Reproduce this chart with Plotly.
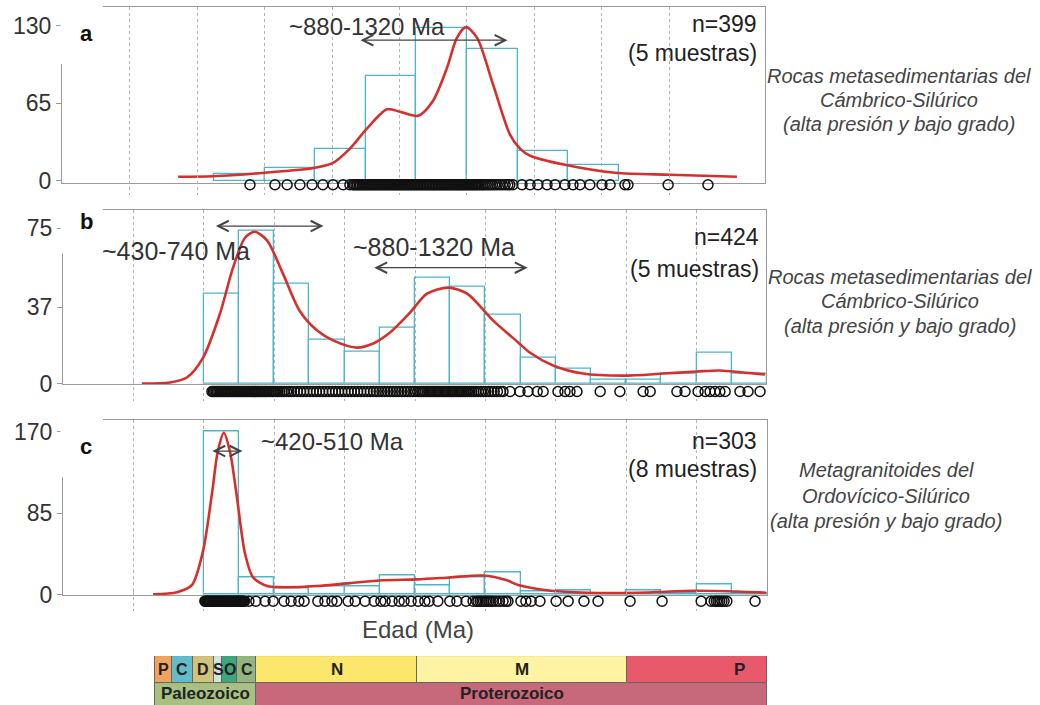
import plotly.graph_objects as go

W, H = 1040, 705          # reference picture size (positions below are read in this space)
FIG_H = 718               # layout height (compensates the vertical squeeze seen in the capture

# ---------------- data ----------------
grid_ages = [200, 400, 600, 800, 1000, 1200, 1400, 1600, 1800]

# panel a : n=399
a_bin_left = [450, 600, 750, 900, 1050, 1200, 1350, 1500]
a_bin_width = 150
a_counts = [6, 11, 27, 88, 128, 111, 25, 13]
a_kde_age = [344, 447, 601, 750, 803, 853, 904, 963, 1001, 1055, 1099, 1141, 1170, 1197,
             1230, 1277, 1327, 1357, 1387, 1490, 1639, 1801, 2000]
a_kde_val = [3.4, 3.8, 6.7, 10.9, 15, 27, 44, 60, 58, 54.5, 67, 95, 120, 129,
             120, 81, 39, 27, 21, 13.4, 6.7, 5, 3.4]
a_ages = [557, 631, 667, 705, 741, 773, 803, 833, 853,
          862, 866, 871, 875, 880, 884, 889, 893, 898, 902, 907, 911, 916, 920, 925, 929, 934,
          938, 943, 947, 952, 956, 961, 965, 970, 974, 979, 983, 988, 992, 997, 1001, 1006,
          1010, 1015, 1019, 1024, 1028, 1033, 1037, 1042, 1046, 1051, 1055, 1060, 1064, 1069,
          1073, 1078, 1082, 1087, 1091, 1096, 1100, 1105, 1109, 1114, 1118, 1123, 1127, 1132,
          1136, 1141, 1145, 1150, 1154, 1159, 1163, 1168, 1172, 1177, 1181, 1186, 1190, 1195,
          1199, 1204, 1208, 1213, 1217, 1222, 1226, 1231, 1236, 1241, 1246, 1251, 1257, 1263,
          1269, 1275, 1282, 1289, 1297, 1305, 1313, 1321, 1327,
          1336, 1363, 1387, 1410, 1437, 1461, 1490, 1514, 1535, 1564, 1600, 1624, 1668, 1677,
          1796, 1914]

# panel b : n=424
b_bin_left = [400, 500, 600, 700, 800, 900, 1000, 1100, 1200, 1300, 1400, 1500, 1600, 1700, 1800, 1900]
b_bin_width = 100
b_counts = [43.4, 73.8, 48.2, 21.2, 15.3, 27.3, 51, 47, 33.4, 12.5, 7.2, 2, 2, 4.8, 15, 5]
b_kde_age = [224, 304, 352, 398, 446, 483, 517, 545, 580, 625, 673, 722, 767, 835, 881, 929,
             986, 1034, 1094, 1148, 1222, 1293, 1327, 1392, 1477, 1591, 1705, 1801, 1866, 1932, 1994]
b_kde_val = [0.2, 0.7, 3.1, 12.7, 33.9, 56, 70.4, 73.3, 69, 53, 35, 25.7, 21, 17.5, 19.5, 24.8,
             34.4, 43.5, 46.4, 43.5, 30.5, 20, 15, 8.9, 5, 4, 5, 6, 6.5, 5.5, 4.6]
b_ages = [423, 427, 431, 435, 439, 443, 447, 451, 455, 459, 463, 467, 471, 475, 479, 483, 487,
          491, 495, 499, 503, 507, 511, 515, 519, 523, 527, 531, 535, 539, 543, 547, 551, 555,
          559, 563, 567, 571, 575, 579, 584, 589, 594, 599, 604, 610, 616, 622, 628, 635, 642,
          649, 657, 666, 675, 684, 693, 702, 711, 720, 729, 738, 747, 756, 765, 774, 783, 792,
          801, 810, 819, 828, 837, 846, 855, 864, 873, 882, 890, 898, 906, 914, 922, 930, 938,
          946, 954, 962, 970, 978, 986, 994, 1001, 1008,
          1014, 1019, 1024, 1029, 1034, 1039, 1044, 1049, 1054, 1059, 1064, 1069, 1074, 1079,
          1084, 1089, 1094, 1099, 1104, 1109, 1114, 1119, 1124, 1129, 1134, 1139, 1144, 1149,
          1155, 1161, 1167, 1173, 1180, 1187, 1194, 1201, 1209, 1217, 1225, 1234, 1243, 1250,
          1270, 1298, 1321, 1347, 1364, 1406, 1426, 1440, 1460, 1526, 1582, 1648, 1668, 1744,
          1767, 1804, 1824, 1838, 1852, 1866, 1881, 1923, 1946, 1980]

# panel c : n=303
c_bin_left = [400, 500, 600, 700, 800, 900, 1000, 1100, 1200, 1300, 1400, 1500, 1600, 1700, 1800, 1900]
c_bin_width = 100
c_counts = [171, 18, 7, 9, 9, 20, 10, 18, 23, 3, 4, 1, 4, 1, 11, 1]
c_kde_age = [256, 324, 366, 398, 423, 440, 457, 474, 494, 517, 540, 580, 625, 722, 815, 909,
             1006, 1099, 1193, 1261, 1293, 1386, 1489, 1634, 1793, 1889, 1997]
c_kde_val = [0.5, 2.6, 9.9, 46, 105, 150, 169, 150, 102, 43, 18, 9, 7.8, 9, 12, 15,
             16, 18, 20, 15, 10, 4, 2, 2, 4, 3.5, 2]
c_ages = [403, 405, 408, 410, 413, 415, 418, 420, 423, 425, 428, 430, 433, 435, 438, 440, 443,
          445, 448, 450, 453, 455, 458, 460, 463, 465, 468, 470, 473, 475, 478, 480, 483, 485,
          488, 490, 493, 495, 498, 500, 503, 505, 508, 510, 513, 516,
          528, 548, 574, 597, 628, 648, 670, 685, 724, 744, 764, 778, 810, 830, 858, 884, 903,
          915, 935, 955, 969, 989, 1009, 1028, 1040, 1065, 1099, 1119, 1145, 1165, 1175, 1179,
          1185, 1190, 1195, 1200, 1205, 1210, 1216, 1222, 1230, 1240, 1250, 1258, 1264, 1301,
          1315, 1330, 1355, 1401, 1435, 1480, 1520, 1611, 1702, 1813, 1841, 1850, 1856, 1861,
          1866, 1872, 1878, 1886, 1966]

# geological time scale (Ma)
period_names = ["P", "C", "D", "S", "O", "C"]
period_start = [252, 299, 359, 419, 444, 485]
period_end = [299, 359, 419, 444, 485, 541]
period_colors = ["#F2A45C", "#63BCCB", "#D2C27C", "#CDE7DF", "#3FA57B", "#93B57E"]
proto_names = ["N", "M", "P"]
proto_start = [541, 1000, 1600]
proto_end = [1000, 1600, 2000]
proto_colors = ["#FCE76C", "#FDF3A2", "#E85A6B"]
proto_label_age = [770, 1300, 1920]
era_names = ["Paleozoico", "Proterozoico"]
era_start = [252, 541]
era_end = [541, 2000]
era_colors = ["#A8C081", "#C8687B"]

# ---------------- figure ----------------
FONT = "Liberation Sans, Arial, sans-serif"
RED = "#D5302B"
CYAN = "#4AB7CD"
fig = go.Figure()


def add_panel(xa, ya, yc, left, width, counts, kage, kval, ages):
    centers = [l + width / 2 for l in left]
    fig.add_trace(go.Bar(x=centers, y=counts, width=width, xaxis=xa, yaxis=ya,
                         marker=dict(color="rgba(0,0,0,0)", line=dict(color=CYAN, width=1.3)),
                         showlegend=False, hoverinfo="skip"))
    fig.add_trace(go.Scatter(x=kage, y=kval, xaxis=xa, yaxis=ya, mode="lines",
                             line=dict(color=RED, width=2.6, shape="spline", smoothing=0.8),
                             showlegend=False, hoverinfo="skip"))
    fig.add_trace(go.Scatter(x=ages, y=[0] * len(ages), xaxis=xa, yaxis=yc, mode="markers",
                             marker=dict(symbol="circle-open", size=10,
                                         line=dict(color="#111", width=1.5), color="#111"),
                             cliponaxis=False, showlegend=False, hoverinfo="skip"))


add_panel("x", "y", "y4", a_bin_left, a_bin_width, a_counts, a_kde_age, a_kde_val, a_ages)
add_panel("x2", "y2", "y5", b_bin_left, b_bin_width, b_counts, b_kde_age, b_kde_val, b_ages)
add_panel("x3", "y3", "y6", c_bin_left, c_bin_width, c_counts, c_kde_age, c_kde_val, c_ages)

# time scale bar
top_start = period_start + proto_start
top_end = period_end + proto_end
top_colors = period_colors + proto_colors
fig.add_trace(go.Bar(orientation="h", y=[0] * len(top_start),
                     x=[e - s for s, e in zip(top_start, top_end)], base=top_start, width=1,
                     xaxis="x4", yaxis="y7",
                     marker=dict(color=top_colors, line=dict(color="#666", width=1)),
                     showlegend=False, hoverinfo="skip"))
fig.add_trace(go.Bar(orientation="h", y=[1] * len(era_start),
                     x=[e - s for s, e in zip(era_start, era_end)], base=era_start, width=1,
                     xaxis="x4", yaxis="y7",
                     marker=dict(color=era_colors, line=dict(color="#666", width=1)),
                     showlegend=False, hoverinfo="skip"))


def px(x):
    return x / W


def py(y):
    return 1 - y / H


grid_style = dict(showgrid=True, gridcolor="#B4B4B4", griddash="dot", gridwidth=1,
                  tickvals=grid_ages, showticklabels=False, ticks="", zeroline=False,
                  showline=True, linecolor="#9A9A9A", linewidth=1, mirror=True)
y_style = dict(showgrid=False, zeroline=False, ticks="outside", ticklen=5, tickcolor="#999",
               tickfont=dict(family=FONT, size=23, color="#333"), showline=True,
               linecolor="#9A9A9A", linewidth=1, mirror=True)
strip = dict(visible=False, range=[-1, 1], fixedrange=True)

fig.update_layout(
    width=W, height=FIG_H, margin=dict(l=0, r=0, t=0, b=0, pad=0), autosize=False,
    paper_bgcolor="white", plot_bgcolor="rgba(0,0,0,0)", barmode="overlay", bargap=0,
    xaxis=dict(domain=[px(62), px(765)], range=[0, 2083], anchor="y", **grid_style),
    yaxis=dict(domain=[py(182), py(6)], range=[-1.68, 145.9], anchor="x",
               tickvals=[0, 65, 130], **y_style),
    xaxis2=dict(domain=[px(63), px(766)], range=[0, 1997], anchor="y2", **grid_style),
    yaxis2=dict(domain=[py(384), py(209)], range=[-0.24, 83.9], anchor="x2",
                tickvals=[0, 37, 75], **y_style),
    xaxis3=dict(domain=[px(63), px(767)], range=[0, 2000], anchor="y3", **grid_style),
    yaxis3=dict(domain=[py(595), py(420)], range=[-0.52, 182], anchor="x3",
                tickvals=[0, 85, 170], **y_style),
    yaxis4=dict(domain=[py(194), py(174)], anchor="x", **strip),
    yaxis5=dict(domain=[py(401), py(381)], anchor="x2", **strip),
    yaxis6=dict(domain=[py(611), py(591)], anchor="x3", **strip),
    xaxis4=dict(domain=[px(67), px(767)], range=[0, 2000], anchor="y7", visible=False),
    yaxis7=dict(domain=[0, 49 / H], range=[1.315, -0.5], anchor="x4", visible=False,
                autorange=False),
)

# white label boxes with panel letters
for (y0, y1) in [(4, 63), (207, 253), (418, 477)]:
    fig.add_shape(type="rect", xref="paper", yref="paper", x0=px(60.5), x1=px(103),
                  y0=py(y1), y1=py(y0), fillcolor="white", line=dict(width=0), layer="above")

annotations = []


def txt(x, y, text, size=23, color="#222", xanchor="center", bold=False, italic=False):
    t = text
    if bold:
        t = "<b>" + t + "</b>"
    if italic:
        t = "<i>" + t + "</i>"
    annotations.append(dict(x=px(x), y=py(y), xref="paper", yref="paper", text=t,
                            showarrow=False, xanchor=xanchor, yanchor="middle",
                            font=dict(family=FONT, size=size, color=color)))


txt(86, 33, "a", size=22, bold=True, color="#111")
txt(86, 221, "b", size=22, bold=True, color="#111")
txt(86, 446, "c", size=22, bold=True, color="#111")

# n counts
txt(759, 23, "n=399", xanchor="right")
txt(759, 52, "(5 muestras)", xanchor="right")
txt(761, 236, "n=424", xanchor="right")
txt(761, 268, "(5 muestras)", xanchor="right")
txt(759, 441, "n=303", xanchor="right")
txt(759, 469, "(8 muestras)", xanchor="right")

# age-range labels
txt(367, 26, "~880-1320 Ma", size=24, color="#333")
txt(176, 250, "~430-740 Ma", size=25, color="#333")
txt(434, 246, "~880-1320 Ma", size=25, color="#333")
txt(332, 441, "~420-510 Ma", size=24, color="#333")

# descriptions
for (yy, lines, cx) in [((75, 99, 123), ["Rocas metasedimentarias del", "Cámbrico-Silúrico",
                                          "(alta presión y bajo grado)"], 899),
                        ((276, 300, 325), ["Rocas metasedimentarias del", "Cámbrico-Silúrico",
                                            "(alta presión y bajo grado)"], 900),
                        ((470, 496, 521), ["Metagranitoides del", "Ordovícico-Silúrico",
                                            "(alta presión y bajo grado)"], 886)]:
    for y, line in zip(yy, lines):
        txt(cx, y, line, size=20, color="#444", italic=True)

txt(418, 629, "Edad (Ma)", size=24, color="#444")

# double arrows for age ranges (data coordinates)
for (xa, ya, a0, a1, yv) in [("x", "y", 880, 1320, 118), ("x2", "y2", 430, 740, 76),
                             ("x2", "y2", 880, 1320, 56), ("x3", "y3", 420, 510, 150)]:
    annotations.append(dict(x=a1, y=yv, ax=a0, ay=yv, xref=xa, yref=ya, axref=xa, ayref=ya,
                            text="", showarrow=True, arrowhead=5, startarrowhead=5,
                            arrowside="end+start", arrowsize=1.6, startarrowsize=1.6,
                            arrowwidth=1.3, arrowcolor="#444", standoff=0, startstandoff=0))

# time scale labels
for name, s, e in zip(period_names, period_start, period_end):
    annotations.append(dict(x=(s + e) / 2, y=0, xref="x4", yref="y7", text="<b>" + name + "</b>",
                            showarrow=False, font=dict(family=FONT, size=16, color="#222")))
for name, xa in zip(proto_names, proto_label_age):
    annotations.append(dict(x=xa, y=0, xref="x4", yref="y7", text="<b>" + name + "</b>",
                            showarrow=False, font=dict(family=FONT, size=17, color="#222")))
for name, s, e in zip(era_names, era_start, era_end):
    annotations.append(dict(x=(s + e) / 2, y=0.9, xref="x4", yref="y7",
                            text="<b>" + name + "</b>",
                            showarrow=False, font=dict(family=FONT, size=17, color="#222")))

fig.update_layout(annotations=annotations)
fig.write_html("out.html")
